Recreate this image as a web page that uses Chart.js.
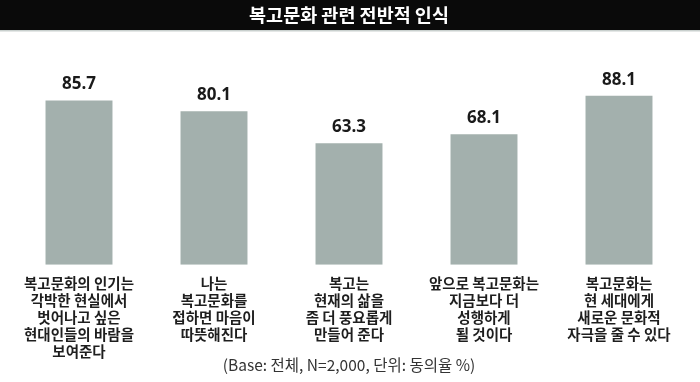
<!DOCTYPE html>
<html>
<head>
<meta charset="utf-8">
<script src="https://cdn.jsdelivr.net/npm/chart.js@4"></script>
<style>
  html, body { margin: 0; padding: 0; background: #ffffff; }
  #wrap { width: 700px; height: 382px; position: relative; }
</style>
</head>
<body>
<div id="wrap"><canvas id="c" width="700" height="382"></canvas></div>
<script>
const chartTitle = "복고문화 관련 전반적 인식";
const footnote = "(Base: 전체, N=2,000, 단위: 동의율 %)";
const categories = [
  ["복고문화의 인기는", "각박한 현실에서", "벗어나고 싶은", "현대인들의 바람을", "보여준다"],
  ["나는", "복고문화를", "접하면 마음이", "따뜻해진다"],
  ["복고는", "현재의 삶을", "좀 더 풍요롭게", "만들어 준다"],
  ["앞으로 복고문화는", "지금보다 더", "성행하게", "될 것이다"],
  ["복고문화는", "현 세대에게", "새로운 문화적", "자극을 줄 수 있다"]
];
const agreeRate = [85.7, 80.1, 63.3, 68.1, 88.1];

const KR = '"Noto Sans CJK KR", "Noto Sans", sans-serif';

const titleBarPlugin = {
  id: 'titleBar',
  beforeDraw(chart) {
    const ctx = chart.ctx;
    ctx.save();
    ctx.fillStyle = '#ffffff';
    ctx.fillRect(0, 0, chart.width, chart.height);
    ctx.fillStyle = '#0a0a0a';
    ctx.fillRect(0, 0, chart.width, 30);
    ctx.fillStyle = '#c9d0ce';
    ctx.fillRect(0, 30, chart.width, 1.5);
    ctx.restore();
  }
};

const valueLabelPlugin = {
  id: 'valueLabels',
  afterDatasetsDraw(chart) {
    const ctx = chart.ctx;
    const meta = chart.getDatasetMeta(0);
    ctx.save();
    ctx.fillStyle = '#1a1a1a';
    ctx.font = 'bold 17px "Open Sans", "Noto Sans", sans-serif';
    ctx.textAlign = 'center';
    ctx.textBaseline = 'middle';
    meta.data.forEach((bar, i) => {
      ctx.fillText(agreeRate[i].toFixed(1), bar.x, bar.y - 16);
    });
    ctx.restore();
  }
};

new Chart(document.getElementById('c'), {
  type: 'bar',
  data: {
    labels: categories,
    datasets: [{
      data: agreeRate,
      backgroundColor: '#a3b0ad',
      borderWidth: 0,
      categoryPercentage: 1.0,
      barPercentage: 0.496
    }]
  },
  options: {
    responsive: false,
    animation: false,
    devicePixelRatio: 1,
    layout: { padding: { left: 11.5, right: 13.5, top: 0, bottom: 0 } },
    plugins: {
      legend: { display: false },
      tooltip: { enabled: false },
      title: {
        display: true,
        text: chartTitle,
        color: '#ffffff',
        font: { family: KR, size: 18.5, weight: 'bold', lineHeight: 1.2 },
        padding: { top: 4, bottom: 46.8 }
      },
      subtitle: {
        display: true,
        position: 'bottom',
        text: footnote,
        color: '#333333',
        font: { family: KR, size: 15.5, weight: 'normal', lineHeight: 1.2 },
        padding: { top: -14, bottom: 7.7 }
      }
    },
    scales: {
      x: {
        grid: { display: false, drawTicks: false },
        border: { display: false },
        ticks: {
          color: '#1e1e1e',
          autoSkip: false,
          maxRotation: 0,
          minRotation: 0,
          padding: 10,
          font: { family: KR, size: 14.5, weight: 'bold', lineHeight: 1.172 }
        }
      },
      y: {
        display: false,
        min: 0,
        max: 100
      }
    }
  },
  plugins: [titleBarPlugin, valueLabelPlugin]
});
</script>
</body>
</html>
